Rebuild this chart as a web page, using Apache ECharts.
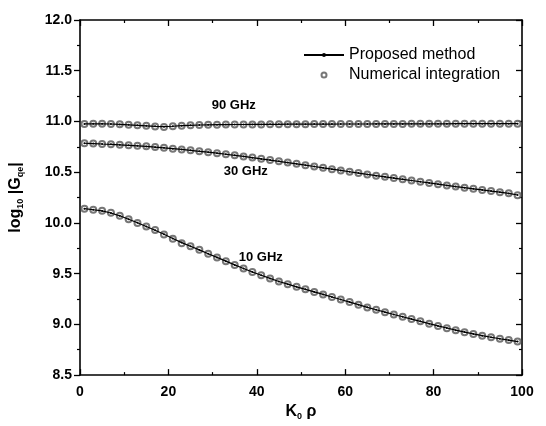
<!DOCTYPE html>
<html>
<head>
<meta charset="utf-8">
<script src="https://cdn.jsdelivr.net/npm/echarts@6/dist/echarts.min.js"></script>
<style>
  html, body { margin: 0; padding: 0; background: #fff; }
  #chart { width: 546px; height: 426px; }
</style>
</head>
<body>
<div id="chart"></div>
<script>
// Normalised distance K0·rho at which both methods are sampled
const kRho = [1, 3, 5, 7, 9, 11, 13, 15, 17, 19, 21, 23, 25, 27, 29, 31, 33, 35, 37, 39,
              41, 43, 45, 47, 49, 51, 53, 55, 57, 59, 61, 63, 65, 67, 69, 71, 73, 75, 77, 79,
              81, 83, 85, 87, 89, 91, 93, 95, 97, 99];

// log10 |Gqe| — numerical integration (circles)
const num90 = [10.975, 10.978, 10.978, 10.976, 10.972, 10.968, 10.962, 10.957, 10.950, 10.945,
               10.952, 10.958, 10.962, 10.965, 10.967, 10.968, 10.969, 10.970, 10.970, 10.971,
               10.971, 10.972, 10.972, 10.973, 10.973, 10.973, 10.974, 10.974, 10.974, 10.975,
               10.975, 10.975, 10.975, 10.976, 10.976, 10.976, 10.976, 10.977, 10.977, 10.977,
               10.977, 10.977, 10.978, 10.978, 10.978, 10.978, 10.978, 10.978, 10.978, 10.978];
const num30 = [10.785, 10.782, 10.778, 10.775, 10.770, 10.765, 10.760, 10.755, 10.748, 10.740,
               10.732, 10.724, 10.716, 10.706, 10.697, 10.687, 10.677, 10.666, 10.655, 10.644,
               10.632, 10.620, 10.607, 10.595, 10.582, 10.569, 10.556, 10.543, 10.530, 10.517,
               10.504, 10.491, 10.478, 10.466, 10.454, 10.442, 10.430, 10.418, 10.406, 10.394,
               10.382, 10.370, 10.358, 10.347, 10.336, 10.325, 10.314, 10.303, 10.292, 10.272];
const num10 = [10.140, 10.130, 10.120, 10.100, 10.070, 10.035, 10.000, 9.965, 9.930, 9.887,
               9.843, 9.800, 9.770, 9.735, 9.695, 9.660, 9.622, 9.585, 9.550, 9.515,
               9.483, 9.452, 9.422, 9.395, 9.370, 9.345, 9.320, 9.295, 9.270, 9.245,
               9.220, 9.193, 9.167, 9.143, 9.120, 9.097, 9.075, 9.052, 9.030, 9.007,
               8.985, 8.963, 8.943, 8.923, 8.905, 8.888, 8.872, 8.858, 8.845, 8.830];

// log10 |Gqe| — proposed method (solid line)
const prop90 = [10.976, 10.977, 10.977, 10.975, 10.971, 10.967, 10.962, 10.957, 10.952, 10.949,
                10.953, 10.958, 10.962, 10.965, 10.967, 10.968, 10.969, 10.970, 10.970, 10.971,
                10.971, 10.972, 10.972, 10.973, 10.973, 10.973, 10.974, 10.974, 10.974, 10.975,
                10.975, 10.975, 10.975, 10.976, 10.976, 10.976, 10.976, 10.977, 10.977, 10.977,
                10.977, 10.977, 10.978, 10.978, 10.978, 10.978, 10.978, 10.978, 10.978, 10.978];
const prop30 = [10.785, 10.782, 10.778, 10.775, 10.770, 10.765, 10.760, 10.754, 10.747, 10.740,
                10.732, 10.724, 10.715, 10.706, 10.697, 10.687, 10.677, 10.666, 10.655, 10.643,
                10.631, 10.619, 10.607, 10.595, 10.582, 10.569, 10.556, 10.543, 10.530, 10.517,
                10.504, 10.491, 10.478, 10.466, 10.454, 10.442, 10.430, 10.418, 10.406, 10.394,
                10.382, 10.370, 10.358, 10.347, 10.336, 10.325, 10.314, 10.303, 10.291, 10.275];
const prop10 = [10.140, 10.130, 10.118, 10.098, 10.070, 10.036, 10.001, 9.965, 9.928, 9.888,
                9.846, 9.806, 9.770, 9.734, 9.696, 9.660, 9.623, 9.586, 9.551, 9.516,
                9.484, 9.453, 9.423, 9.396, 9.370, 9.345, 9.320, 9.295, 9.270, 9.245,
                9.220, 9.194, 9.168, 9.144, 9.120, 9.097, 9.075, 9.052, 9.030, 9.007,
                8.985, 8.964, 8.943, 8.924, 8.906, 8.889, 8.873, 8.858, 8.844, 8.830];

// Curve annotations, in data coordinates
const curveLabels = ['90 GHz', '30 GHz', '10 GHz'];
const curveLabelX = [34.8, 37.5, 40.9];
const curveLabelY = [11.16, 10.505, 9.655];

const seriesNames = ['Proposed method', 'Numerical integration'];

const pairs = (ys) => kRho.map((x, i) => [x, ys[i]]);

const FONT = 'Liberation Sans, Arial, sans-serif';
const axisFont = { fontFamily: FONT, fontSize: 14, fontWeight: 'bold', color: '#000' };
const lineCol = '#000';

function propSeries(ys) {
  return {
    name: seriesNames[0], type: 'line', data: pairs(ys),
    xAxisIndex: 0, yAxisIndex: 0, z: 4,
    symbol: 'circle', symbolSize: 2, showSymbol: true,
    itemStyle: { color: '#000' },
    lineStyle: { color: '#000', width: 1.2 },
    emphasis: { disabled: true }, animation: false
  };
}
function numSeries(ys) {
  return {
    name: seriesNames[1], type: 'scatter', data: pairs(ys),
    xAxisIndex: 0, yAxisIndex: 0, z: 3,
    symbol: 'emptyCircle', symbolSize: 6,
    itemStyle: { color: '#555', borderWidth: 0.9 },
    emphasis: { disabled: true }, animation: false
  };
}

const subRich = {
  k: { fontFamily: FONT, fontSize: 16, fontWeight: 'bold', color: '#000' },
  s: { fontFamily: FONT, fontSize: 9, fontWeight: 'bold', color: '#000', verticalAlign: 'bottom', padding: [9, 0, 0, 0] }
};

const chart = echarts.init(document.getElementById('chart'), null, { renderer: 'canvas' });
chart.setOption({
  backgroundColor: '#fff',
  animation: false,
  grid: { left: 80, right: 24, top: 20, bottom: 43, containLabel: false },
  legend: {
    data: seriesNames,
    orient: 'vertical', left: 298, top: 42,
    itemWidth: 40, itemHeight: 5, itemGap: 4,
    textStyle: { fontFamily: FONT, fontSize: 16, color: '#000' },
    selectedMode: false
  },
  xAxis: [
    {
      type: 'value', position: 'bottom', min: 0, max: 100, interval: 20,
      name: '{k|K}{s|0}{k| ρ}', nameLocation: 'middle', nameGap: 19,
      nameTextStyle: { rich: subRich },
      axisLine: { show: true, onZero: false, lineStyle: { color: lineCol, width: 1.6 } },
      axisTick: { show: true, inside: true, length: 6, lineStyle: { color: lineCol, width: 1.3 } },
      minorTick: { show: true, splitNumber: 2, length: 3, lineStyle: { color: lineCol, width: 1.2 } },
      axisLabel: Object.assign({ margin: 10, showMinLabel: true, showMaxLabel: true }, axisFont),
      splitLine: { show: false }
    },
    {
      type: 'value', position: 'top', min: 0, max: 100, interval: 20,
      axisLine: { show: true, onZero: false, lineStyle: { color: lineCol, width: 1.6 } },
      axisTick: { show: true, inside: true, length: 6, lineStyle: { color: lineCol, width: 1.3 } },
      minorTick: { show: true, splitNumber: 2, length: 3, lineStyle: { color: lineCol, width: 1.2 } },
      axisLabel: { show: false },
      splitLine: { show: false }
    }
  ],
  yAxis: [
    {
      type: 'value', position: 'left', min: 8.5, max: 12.0, interval: 0.5,
      name: '{k|log}{s|10}{k| |G}{s|qe}{k||}', nameLocation: 'middle', nameGap: 55,
      nameTextStyle: { rich: subRich },
      axisLine: { show: true, onZero: false, lineStyle: { color: lineCol, width: 1.6 } },
      axisTick: { show: true, inside: false, length: 6, lineStyle: { color: lineCol, width: 1.3 } },
      minorTick: { show: true, splitNumber: 2, length: 3, lineStyle: { color: lineCol, width: 1.2 } },
      axisLabel: Object.assign({ margin: 8, formatter: (v) => v.toFixed(1) }, axisFont),
      splitLine: { show: false }
    },
    {
      type: 'value', position: 'right', min: 8.5, max: 12.0, interval: 0.5,
      axisLine: { show: true, onZero: false, lineStyle: { color: lineCol, width: 1.6 } },
      axisTick: { show: true, inside: true, length: 6, lineStyle: { color: lineCol, width: 1.3 } },
      minorTick: { show: true, splitNumber: 2, length: 3, lineStyle: { color: lineCol, width: 1.2 } },
      axisLabel: { show: false },
      splitLine: { show: false }
    }
  ],
  series: [
    numSeries(num90), numSeries(num30), numSeries(num10),
    propSeries(prop90), propSeries(prop30), propSeries(prop10),
    {
      name: 'curve labels', type: 'scatter', xAxisIndex: 0, yAxisIndex: 0, z: 5,
      symbolSize: 0, silent: true,
      data: curveLabels.map((t, i) => ({ value: [curveLabelX[i], curveLabelY[i]], name: t })),
      label: {
        show: true, position: 'inside', formatter: (p) => p.name,
        fontFamily: FONT, fontSize: 13, fontWeight: 'bold', color: '#000', opacity: 1
      }
    }
  ]
});
</script>
</body>
</html>
